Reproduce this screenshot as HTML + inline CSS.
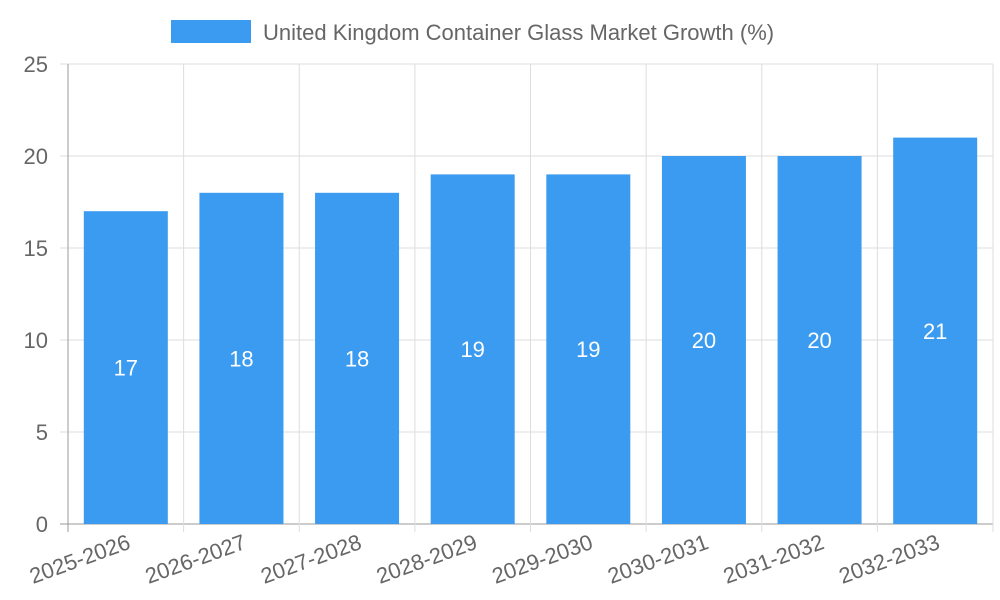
<!DOCTYPE html>
<html><head><meta charset="utf-8"><style>
html,body{margin:0;padding:0;background:#fff;width:1000px;height:600px;overflow:hidden}
svg{font-family:"Liberation Sans",sans-serif}
</style></head><body>
<svg id="chart" width="1000" height="600">
<g>
<rect x="171" y="20" width="80" height="23" fill="#3a9bf0"></rect>
<text x="263" y="40" font-size="22" fill="#666">United Kingdom Container Glass Market Growth (%)</text>
</g>
<g id="grid"></g><g id="bars"></g><g id="labels"></g>
</svg>
<script>
const categories=["2025-2026","2026-2027","2027-2028","2028-2029","2029-2030","2030-2031","2031-2032","2032-2033"];
const values=[17,18,18,19,19,20,20,21];
const yTicks=[0,5,10,15,20,25];
const ns="http://www.w3.org/2000/svg";
const L=68,R=993,T=64,B=524,yMax=25;
const bw=(R-L)/categories.length;
const y=v=>B-(v/yMax)*(B-T);
const x=i=>L+bw*i;
function mk(tag,attrs,parent){const e=document.createElementNS(ns,tag);for(const k in attrs)e.setAttribute(k,attrs[k]);parent.appendChild(e);return e;}
const grid=document.getElementById('grid'),bars=document.getElementById('bars'),labels=document.getElementById('labels');
yTicks.forEach(t=>{
const l=mk('line',{x1:L-8,x2:R,y1:y(t),y2:y(t),stroke:t===0?'#999':'#ddd','stroke-width':1},grid);


const tx=mk('text',{x:L-20,y:y(t)+8,'text-anchor':'end','font-size':22,fill:'#666'},grid);
tx.textContent=t;


});
for(let i=0;i<=categories.length;i++){
const l=mk('line',{x1:x(i),x2:x(i),y1:T,y2:B+8,stroke:i===0?'#999':'#ddd','stroke-width':1},grid);


}
categories.forEach((c,i)=>{
const bx=x(i)+(bw-84)/2;
const r=mk('rect',{x:bx,y:y(values[i]),width:84,height:B-y(values[i]),fill:'#3a9bf0'},bars);


const v=mk('text',{x:x(i)+bw/2,y:(y(values[i])+B)/2+8,'text-anchor':'middle','font-size':22,fill:'#fff'},labels);
v.textContent=values[i];


const cx=x(i)+bw/2+6,cy=B+24;
const t=mk('text',{x:cx,y:cy,'text-anchor':'end','font-size':22,fill:'#666',transform:`rotate(-20 ${cx} ${cy})`},labels);
t.textContent=c;


});
</script>
</body></html>
